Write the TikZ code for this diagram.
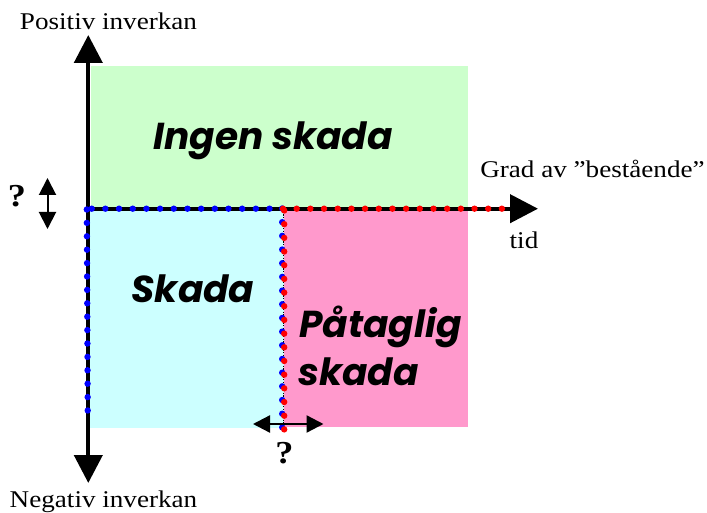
\documentclass[tikz,border=0pt]{standalone}
\usepackage{fontspec}
\setmainfont{Liberation Serif}[FakeStretch=1.13]
\newfontfamily\comicf{Poppins}
\usetikzlibrary{arrows.meta}
\definecolor{gr}{HTML}{CCFFCC}
\definecolor{cy}{HTML}{CCFFFF}
\definecolor{pk}{HTML}{FF99CC}
\definecolor{bd}{HTML}{0000FF}
\definecolor{rd}{HTML}{FF0000}
\tikzset{
  axisline/.style={line width=4.3pt, black},
  bigtip/.tip={Triangle[length=28pt,width=28pt]},
  smalltip/.tip={Triangle[length=17pt,width=17pt]},
  dotline/.style={line width=6.4pt, line cap=round, dash pattern=on 0pt off 13.68pt},
  lbl/.style={inner sep=0pt, anchor=base, font=\fontsize{24}{28}\selectfont},
  qm/.style={inner sep=0pt, anchor=base, font=\fontsize{32}{36}\selectfont\bfseries},
  region/.style={inner sep=0pt, anchor=base, font=\fontsize{37.5}{40}\selectfont\comicf\bfseries\itshape},
}
\begin{document}
\begin{tikzpicture}[x=1pt,y=-1pt]
\useasboundingbox (0,0) rectangle (707,513);
% regions
\fill[gr] (90.5,66) rectangle (467.5,209);
\fill[cy] (88,209) rectangle (284,428);
\fill[pk] (284,209) rectangle (467.5,427);
% coordinates
\coordinate (ytop) at (88.3,35);
\coordinate (ybot) at (88.3,483);
\coordinate (orig) at (86.2,208.7);
\coordinate (xtip) at (538,208.7);
\coordinate (hb1) at (91.7,208.7);
\coordinate (hb2) at (283,208.7);
\coordinate (hr1) at (283,208.7);
\coordinate (hr2) at (502,208.7);
\coordinate (vb1) at (86.8,209.5);
\coordinate (vb2) at (87.8,423.5);
\coordinate (mb1) at (282.2,208.5);
\coordinate (mb2) at (282.2,427.5);
\coordinate (mr1) at (284.2,210.5);
\coordinate (mr2) at (284.2,429.5);
\coordinate (mk1) at (283.2,209);
\coordinate (mk2) at (283.2,432);
% axes
\draw[axisline, {bigtip}-{bigtip}] (ybot) -- (ytop);
\draw[axisline, -{bigtip}] (orig) -- (xtip);
% dotted lines
\draw[line width=0.8pt, dash pattern=on 1.2pt off 1.5pt] (mk1) -- (mk2);
\draw[dotline, bd] (hb1) -- (hb2);
\draw[dotline, bd, dash pattern=on 0pt off 13.4pt] (vb1) -- (vb2);
\draw[dotline, bd] (mb1) -- (mb2);
\draw[dotline, rd] (hr1) -- (hr2);
\draw[dotline, rd] (mr1) -- (mr2);
% small double arrows
\coordinate (va1) at (47.5,178);
\coordinate (va2) at (47.5,229);
\draw[line width=2pt, {smalltip}-{smalltip}] (va1) -- (va2);
\coordinate (ha1) at (253,424);
\coordinate (ha2) at (323.5,424);
\draw[line width=2.3pt, {smalltip}-{smalltip}] (ha1) -- (ha2);
% labels
\node[lbl] (pos) at (108.5,30) {Positiv inverkan};
\node[lbl] (neg) at (103.5,507) {Negativ inverkan};
\node[lbl] (grad) at (592.5,178) {Grad av ”bestående”};
\node[lbl] (tid) at (524,248) {tid};
\node[qm] (q1) at (17,207) {?};
\node[qm] (q2) at (284.5,463) {?};
% region labels
\node[region] (ingen) at (273,150) {Ingen skada};
\node[region] (skada) at (193,302) {Skada};
\node[region, anchor=base west] (pat) at (299,337) {Påtaglig};
\node[region, anchor=base west] (pat2) at (298,385) {skada};
\end{tikzpicture}
\end{document}
